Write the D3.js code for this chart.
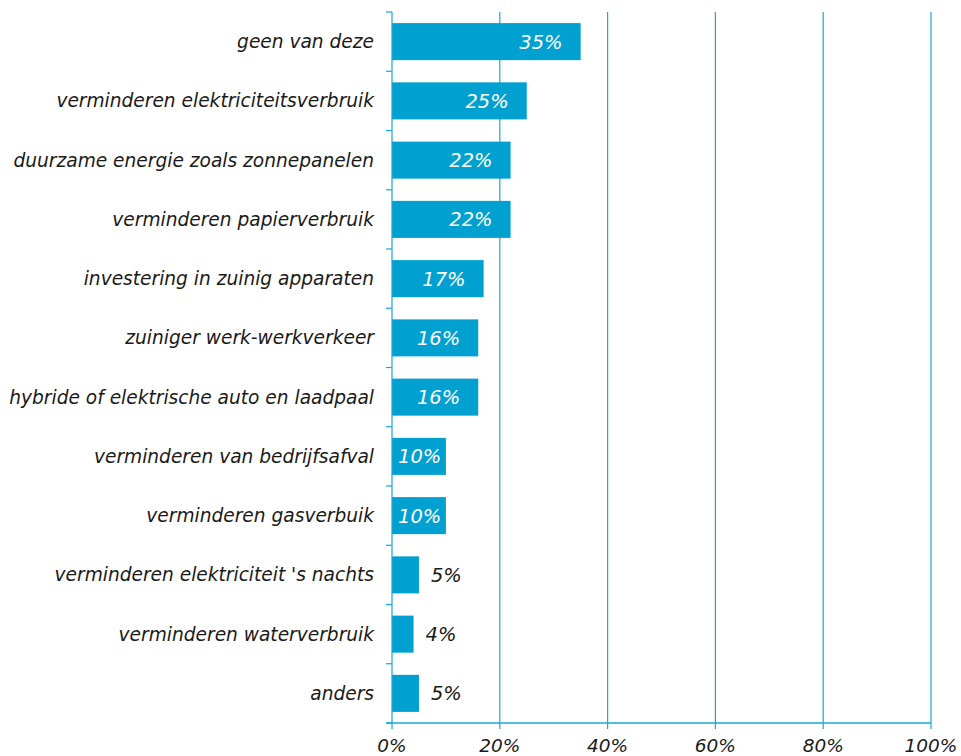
<!DOCTYPE html>
<html><head><meta charset="utf-8">
<script src="https://cdn.jsdelivr.net/npm/d3@7"></script>
<style>
body{margin:0;background:#fff;}
svg{display:block;font-family:"DejaVu Sans",Verdana,sans-serif;font-style:italic;}
</style></head>
<body>
<svg id="chart" width="961" height="756"></svg>
<script>
const categories = ["geen van deze","verminderen elektriciteitsverbruik","duurzame energie zoals zonnepanelen","verminderen papierverbruik","investering in zuinig apparaten","zuiniger werk-werkverkeer","hybride of elektrische auto en laadpaal","verminderen van bedrijfsafval","verminderen gasverbuik","verminderen elektriciteit 's nachts","verminderen waterverbruik","anders"];
const values = [35,25,22,22,17,16,16,10,10,5,4,5];
const ticks = [0,20,40,60,80,100];

const svg = d3.select("#chart");
const x0 = 392, x1 = 931, yTop = 12, yBot = 723;
const blue = "#00a0d1", line = "#1aa7da";
const x = d3.scaleLinear().domain([0,100]).range([x0,x1]);
const y = d3.scaleBand().domain(categories).range([yTop,yBot]).paddingInner(0.375).paddingOuter(0.1875);

// grid
svg.append("g").selectAll("line").data(ticks.slice(1)).join("line")
  .attr("x1",d=>x(d)).attr("x2",d=>x(d)).attr("y1",yTop).attr("y2",yBot)
  .attr("stroke",line).attr("stroke-width",1.2);

// bars
svg.append("g").selectAll("rect").data(values).join("rect")
  .attr("x",x0).attr("y",(d,i)=>y(categories[i]))
  .attr("width",d=>x(d)-x0).attr("height",y.bandwidth())
  .attr("fill",blue);

// left axis
svg.append("line").attr("x1",x0).attr("x2",x0).attr("y1",yTop).attr("y2",yBot).attr("stroke",line).attr("stroke-width",1.2);
const bounds = d3.range(categories.length+1).map(i=>yTop + i*(yBot-yTop)/categories.length);
svg.append("g").selectAll("line").data(bounds).join("line")
  .attr("x1",x0-6).attr("x2",x0).attr("y1",d=>d).attr("y2",d=>d)
  .attr("stroke",line).attr("stroke-width",1.2);

// bottom axis
svg.append("line").attr("x1",x0-6).attr("x2",x1).attr("y1",yBot).attr("y2",yBot).attr("stroke",line).attr("stroke-width",1.5);
svg.append("g").selectAll("line").data(ticks).join("line")
  .attr("x1",d=>x(d)).attr("x2",d=>x(d)).attr("y1",yBot).attr("y2",yBot+6)
  .attr("stroke",line).attr("stroke-width",1.2);
svg.append("g").selectAll("text").data(ticks).join("text")
  .attr("x",d=>x(d)).attr("y",yBot+29).attr("text-anchor","middle")
  .attr("font-size",18.5).attr("fill","#1a1a1a").text(d=>d+"%");

// category labels
svg.append("g").selectAll("text").data(categories).join("text")
  .attr("x",x0-18).attr("y",d=>y(d)+y.bandwidth()/2).attr("dy","0.35em")
  .attr("text-anchor","end").attr("font-size",18.6).attr("fill","#1a1a1a").text(d=>d);

// value labels
const vl = svg.append("g");
values.forEach((v,i)=>{
  const cy = y(categories[i])+y.bandwidth()/2;
  const t = vl.append("text").attr("y",cy).attr("dy","0.36em").attr("font-size",19.5).text(v+"%");
  if(v>=10){
    t.attr("fill","#fff");
    const w = t.node().getComputedTextLength();
    let xe = x(v)-18;
    if(xe - w < x0+6) xe = x0+6+w;
    t.attr("x",xe).attr("text-anchor","end");
  } else {
    t.attr("fill","#1a1a1a").attr("x",x(v)+12);
  }
});
</script>
</body></html>
